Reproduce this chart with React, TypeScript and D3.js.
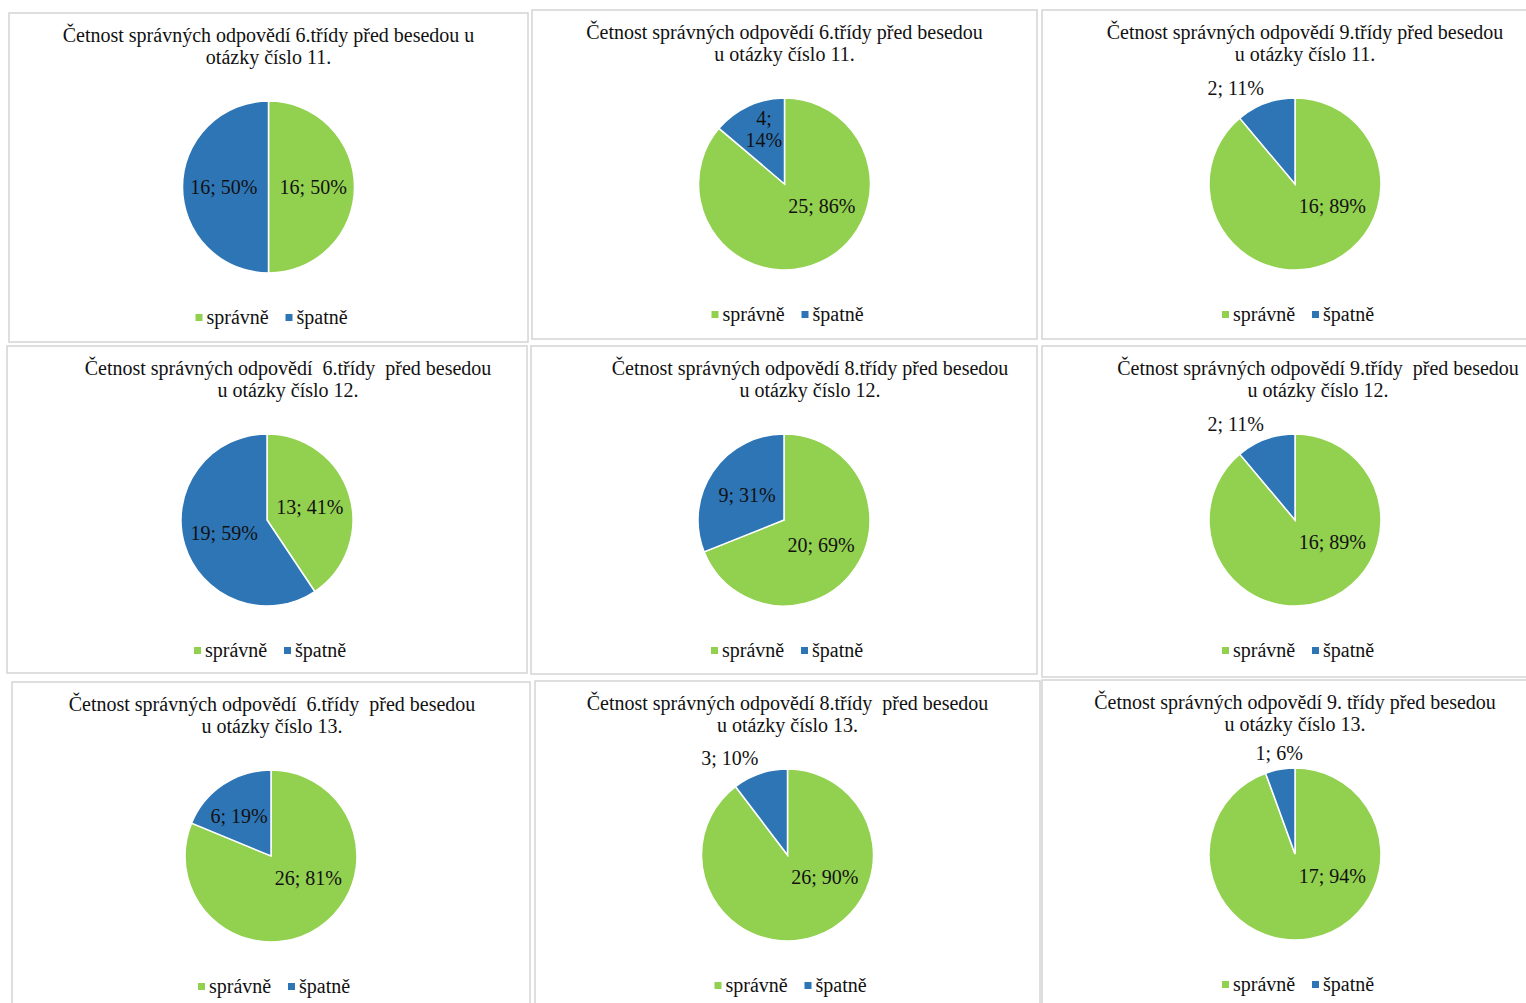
import React from "react";
import * as d3 from "d3";

// ---- data ----
const categories = ["správně", "špatně"];
const correct = [16, 25, 16, 13, 20, 16, 26, 26, 17];
const wrong = [16, 4, 2, 19, 9, 2, 6, 3, 1];
const titleLine1 = [
  "Četnost správných odpovědí 6.třídy před besedou u",
  "Četnost správných odpovědí 6.třídy před besedou",
  "Četnost správných odpovědí 9.třídy před besedou",
  "Četnost správných odpovědí  6.třídy  před besedou",
  "Četnost správných odpovědí 8.třídy před besedou",
  "Četnost správných odpovědí 9.třídy  před besedou",
  "Četnost správných odpovědí  6.třídy  před besedou",
  "Četnost správných odpovědí 8.třídy  před besedou",
  "Četnost správných odpovědí 9. třídy před besedou",
];
const titleLine2 = [
  "otázky číslo 11.",
  "u otázky číslo 11.",
  "u otázky číslo 11.",
  "u otázky číslo 12.",
  "u otázky číslo 12.",
  "u otázky číslo 12.",
  "u otázky číslo 13.",
  "u otázky číslo 13.",
  "u otázky číslo 13.",
];

// ---- layout (panel frames as placed on the page) ----
const panelX = [9, 532, 1042, 7, 531, 1042, 12, 535, 1042];
const panelY = [13, 10, 10, 346, 346, 346, 682, 681, 680];
const panelW = [519, 505, 506, 520, 506, 506, 518, 505, 506];
const panelH = [329, 329, 329, 327, 328, 331, 340, 340, 340];
const titleShift = [0, 0, 10, 21, 26, 23, 1, 0, 0];

const COLORS = ["#92D050", "#2E75B6"];
const FONT = "'Liberation Serif', 'Times New Roman', serif";
const TEXT = "#111";
const R = 86;

function PiePanel({ i }: { i: number }) {
  const x0 = panelX[i];
  const y0 = panelY[i];
  const w = panelW[i];
  const h = panelH[i];
  const cx = w / 2;
  const cy = 174;
  const values = [correct[i], wrong[i]];
  const total = d3.sum(values);
  const pie = d3.pie<number>().sort(null).value((d) => d)(values);
  const arc = d3.arc<d3.PieArcDatum<number>>().innerRadius(0).outerRadius(R);

  const labels = pie.map((p, k) => {
    const frac = p.value / total;
    const pct = Math.round(frac * 100);
    const text = `${p.value}; ${pct}%`;
    const mid = (p.startAngle + p.endAngle) / 2;
    if (frac < 0.12) {
      const dx = Math.sin(mid);
      const dy = -Math.cos(mid);
      const px = dx * (R + 5);
      const py = dy * (R + 5);
      const anchor = Math.abs(dx) < 0.25 ? "middle" : dx < 0 ? "end" : "start";
      return (
        <text key={k} x={px} y={py - 4} textAnchor={anchor} fontSize={20} fontFamily={FONT} fill={TEXT}>
          {text}
        </text>
      );
    }
    let ang = mid;
    let dist = 0.52 * R;
    if (frac >= 0.75) {
      ang = (120 * Math.PI) / 180;
      dist = 0.5 * R;
    } else if (frac < 0.16) {
      dist = 0.68 * R;
    } else if (frac < 0.25) {
      ang = mid - 0.08;
      dist = 0.6 * R;
    }
    const lx = Math.sin(ang) * dist;
    const ly = -Math.cos(ang) * dist;
    if (frac < 0.16) {
      return (
        <text key={k} x={lx} y={ly} textAnchor="middle" fontSize={20} fontFamily={FONT} fill={TEXT}>
          <tspan x={lx + 4} dy="-0.3em">{`${p.value};`}</tspan>
          <tspan x={lx + 4} dy="1.1em">{`${pct}%`}</tspan>
        </text>
      );
    }
    return (
      <text key={k} x={lx} y={ly} dy="0.35em" textAnchor="middle" fontSize={20} fontFamily={FONT} fill={TEXT}>
        {text}
      </text>
    );
  });

  const lx = cx + 4;
  const ly = 304;
  return (
    <g transform={`translate(${x0},${y0})`}>
      <rect x={0} y={0} width={w} height={h} fill="#fff" stroke="#d4d4d4" strokeWidth={1.5} />
      <text
        x={cx + titleShift[i]}
        y={22}
        dy="0.35em"
        textAnchor="middle"
        fontSize={20}
        fontFamily={FONT}
        fill={TEXT}
        style={{ whiteSpace: "pre" }}
      >
        {titleLine1[i]}
      </text>
      <text
        x={cx + titleShift[i]}
        y={44}
        dy="0.35em"
        textAnchor="middle"
        fontSize={20}
        fontFamily={FONT}
        fill={TEXT}
        style={{ whiteSpace: "pre" }}
      >
        {titleLine2[i]}
      </text>
      <g transform={`translate(${cx},${cy})`}>
        {pie.map((p, k) => (
          <path key={k} d={arc(p) || ""} fill={COLORS[k]} stroke="#fff" strokeWidth={1.5} />
        ))}
        {labels}
      </g>
      <g transform={`translate(${lx},${ly})`}>
        <rect x={-77} y={-3} width={7} height={7} fill={COLORS[0]} />
        <text x={-66} y={0} dy="0.35em" fontSize={20} fontFamily={FONT} fill={TEXT}>
          {categories[0]}
        </text>
        <rect x={13} y={-3} width={7} height={7} fill={COLORS[1]} />
        <text x={24} y={0} dy="0.35em" fontSize={20} fontFamily={FONT} fill={TEXT}>
          {categories[1]}
        </text>
      </g>
    </g>
  );
}

export default function App() {
  return (
    <svg
      width={1526}
      height={1003}
      style={{ position: "absolute", left: 0, top: 0, background: "#fff" }}
    >
      <rect x={0} y={0} width={1526} height={1003} fill="#fff" />
      {correct.map((_, i) => (
        <PiePanel key={i} i={i} />
      ))}
    </svg>
  );
}
